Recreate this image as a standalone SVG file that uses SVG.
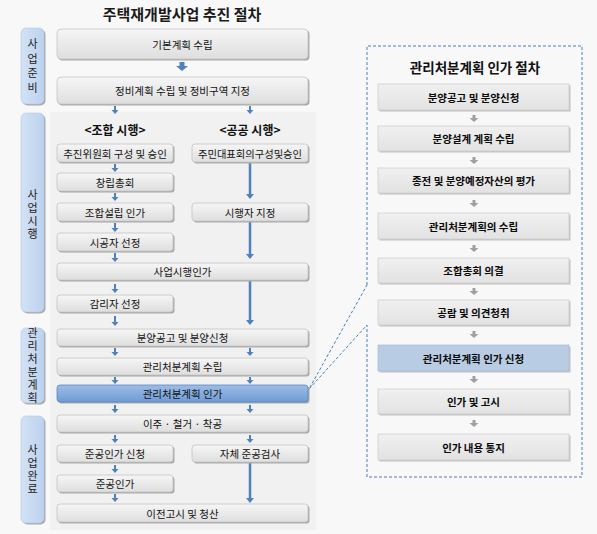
<svg xmlns="http://www.w3.org/2000/svg" width="597" height="534" viewBox="0 0 597 534">
<defs>
<linearGradient id="gGray" x1="0" y1="0" x2="0" y2="1"><stop offset="0" stop-color="#f6f6f6"/><stop offset="1" stop-color="#dedede"/></linearGradient>
<linearGradient id="gBlue" x1="0" y1="0" x2="0" y2="1"><stop offset="0" stop-color="#9dbde6"/><stop offset="1" stop-color="#6e9bd5"/></linearGradient>
<linearGradient id="gPanel" x1="0" y1="0" x2="0" y2="1"><stop offset="0" stop-color="#f0f0f0"/><stop offset="1" stop-color="#e2e2e2"/></linearGradient>
<linearGradient id="gLabel" x1="0" y1="0" x2="1" y2="0"><stop offset="0" stop-color="#d3e2f5"/><stop offset="1" stop-color="#bcd2ee"/></linearGradient>
</defs>
<style>
text{font-family:"Noto Sans CJK KR","Noto Sans",sans-serif;fill:#111;text-anchor:middle;dominant-baseline:central}
.box{fill:url(#gGray);stroke:#c4c4c4;stroke-width:0.8}
.sh{fill:#a9a9a9}
.hl{fill:url(#gBlue);stroke:#5b87c5;stroke-width:0.8}
.lab{fill:url(#gLabel);stroke:#b3c9e6;stroke-width:0.6}
.t{font-size:10.5px}
.lt{font-size:11px;fill:#222;writing-mode:vertical-rl;text-orientation:upright;letter-spacing:2px}
.hd{font-size:12px;font-weight:bold}
.pb{fill:url(#gPanel);stroke:#cfcfcf;stroke-width:0.8}
.psh{fill:#c2c2c2}
.phl{fill:#b8cce4;stroke:#a8bedb;stroke-width:0.8}
.pt{font-size:10.5px;font-weight:bold;fill:#0a0a0a}
.ar{fill:#4f81bd}
.ga{fill:#a0a0a0}
.ln{stroke:#4f81bd;stroke-width:2.5;fill:none}
.dash{fill:none;stroke:#4a7ebb;stroke-width:1;stroke-dasharray:3 2}
</style>
<rect width="597" height="534" fill="#f8f8f8"/>
<rect x="50" y="112" width="266" height="418" fill="#f1f1f1"/>
<text x="182" y="13" style="font-size:15px;font-weight:bold;fill:#1a1a1a">주택재개발사업 추진 절차</text>

<g id="labels">
<g id="label-prep"><rect x="22.5" y="29.5" width="23" height="76" rx="5" class="sh"/><rect x="21" y="28" width="23" height="76" rx="5" class="lab"/>
<text class="lt" x="32.5" y="67.5" style="letter-spacing:3.5px">사업준비</text></g>
<g id="label-exec"><rect x="22.5" y="114.5" width="23" height="199" rx="5" class="sh"/><rect x="21" y="113" width="23" height="199" rx="5" class="lab"/>
<text class="lt" x="32.5" y="215.5">사업시행</text></g>
<g id="label-mgmt"><rect x="22.5" y="329.5" width="23" height="75" rx="5" class="sh"/><rect x="21" y="328" width="23" height="75" rx="5" class="lab"/>
<text class="lt" x="32.5" y="366.5">관리처분계획</text></g>
<g id="label-done"><rect x="22.5" y="417.5" width="23" height="107" rx="5" class="sh"/><rect x="21" y="416" width="23" height="107" rx="5" class="lab"/>
<text class="lt" x="32.5" y="470.5">사업완료</text></g>
</g>

<g id="headers">
<text x="115" y="129" class="hd">&lt;조합 시행&gt;</text>
<text x="250" y="129" class="hd">&lt;공공 시행&gt;</text>
</g>

<g id="connectors">
<path class="ar" d="M179.5,62 h5 v4 h3.5 l-6,5 l-6,-5 h3.5 z"/>
<path class="ar" d="M114,106 h2 v4 h2.5 l-3.5,4 l-3.5,-4 h2.5 z"/>
<path class="ar" d="M249,106 h2 v4 h2.5 l-3.5,4 l-3.5,-4 h2.5 z"/>
<path class="ar" d="M114,164 h2 v4 h2.5 l-3.5,4 l-3.5,-4 h2.5 z"/>
<path class="ar" d="M114,193 h2 v4 h2.5 l-3.5,4 l-3.5,-4 h2.5 z"/>
<path class="ar" d="M114,223 h2 v5 h2.5 l-3.5,4 l-3.5,-4 h2.5 z"/>
<path class="ar" d="M114,253 h2 v5 h2.5 l-3.5,4 l-3.5,-4 h2.5 z"/>
<path class="ar" d="M114,284 h2 v5 h2.5 l-3.5,4 l-3.5,-4 h2.5 z"/>
<path class="ar" d="M114,316 h2 v6 h2.5 l-3.5,4 l-3.5,-4 h2.5 z"/>
<path class="ar" d="M114,348 h2 v4 h2.5 l-3.5,4 l-3.5,-4 h2.5 z"/>
<path class="ar" d="M249,348 h2 v4 h2.5 l-3.5,4 l-3.5,-4 h2.5 z"/>
<path class="ar" d="M114,377 h2 v3 h2.5 l-3.5,4 l-3.5,-4 h2.5 z"/>
<path class="ar" d="M249,377 h2 v3 h2.5 l-3.5,4 l-3.5,-4 h2.5 z"/>
<path class="ar" d="M114,405 h2 v4 h2.5 l-3.5,4 l-3.5,-4 h2.5 z"/>
<path class="ar" d="M249,405 h2 v4 h2.5 l-3.5,4 l-3.5,-4 h2.5 z"/>
<path class="ar" d="M114,435 h2 v4 h2.5 l-3.5,4 l-3.5,-4 h2.5 z"/>
<path class="ar" d="M249,435 h2 v4 h2.5 l-3.5,4 l-3.5,-4 h2.5 z"/>
<path class="ar" d="M114,465 h2 v4 h2.5 l-3.5,4 l-3.5,-4 h2.5 z"/>
<path class="ar" d="M114,494 h2 v4 h2.5 l-3.5,4 l-3.5,-4 h2.5 z"/>
<line class="ln" x1="250" y1="163" x2="250" y2="195"/><path class="ar" d="M246,194 h8 l-4,5 z"/>
<line class="ln" x1="250" y1="222" x2="250" y2="255"/><path class="ar" d="M246,254 h8 l-4,5 z"/>
<line class="ln" x1="250" y1="281" x2="250" y2="321"/><path class="ar" d="M246,320 h8 l-4,5 z"/>
<line class="ln" x1="250" y1="463" x2="250" y2="499"/><path class="ar" d="M246,498 h8 l-4,5 z"/>
<path class="dash" d="M367,285 V46 H582 V477 H367 V325 L309,389 Z"/>
<path class="ga" d="M472.5,115 h3 v3 h3 l-4.5,4 l-4.5,-4 h3 z"/>
<path class="ga" d="M472.5,157 h3 v3 h3 l-4.5,4 l-4.5,-4 h3 z"/>
<path class="ga" d="M472.5,200 h3 v3 h3 l-4.5,4 l-4.5,-4 h3 z"/>
<path class="ga" d="M472.5,245 h3 v3 h3 l-4.5,4 l-4.5,-4 h3 z"/>
<path class="ga" d="M472.5,288 h3 v3 h3 l-4.5,4 l-4.5,-4 h3 z"/>
<path class="ga" d="M472.5,331 h3 v3 h3 l-4.5,4 l-4.5,-4 h3 z"/>
<path class="ga" d="M472.5,376 h3 v3 h3 l-4.5,4 l-4.5,-4 h3 z"/>
<path class="ga" d="M472.5,420 h3 v3 h3 l-4.5,4 l-4.5,-4 h3 z"/>
</g>

<g id="n1"><rect x="58.5" y="30.5" width="251" height="30" rx="4" class="sh"/><rect x="57" y="29" width="251" height="30" rx="4" class="box"/><text x="182.5" y="44" class="t">기본계획 수립</text></g>
<g id="n2"><rect x="58.5" y="78.5" width="251" height="27" rx="4" class="sh"/><rect x="57" y="77" width="251" height="27" rx="4" class="box"/><text x="182.5" y="90.5" class="t">정비계획 수립 및 정비구역 지정</text></g>
<g id="n3"><rect x="58.5" y="145.5" width="116" height="18" rx="3" class="sh"/><rect x="57" y="144" width="116" height="18" rx="3" class="box"/><text x="115" y="153" class="t">추진위원회 구성 및 승인</text></g>
<g id="n4"><rect x="193.5" y="145.5" width="116" height="18" rx="3" class="sh"/><rect x="192" y="144" width="116" height="18" rx="3" class="box"/><text x="250" y="153" class="t" textLength="104" lengthAdjust="spacingAndGlyphs">주민대표회의구성및승인</text></g>
<g id="n5"><rect x="58.5" y="174.5" width="116" height="18" rx="3" class="sh"/><rect x="57" y="173" width="116" height="18" rx="3" class="box"/><text x="115" y="182" class="t">창립총회</text></g>
<g id="n6"><rect x="58.5" y="204.5" width="116" height="18" rx="3" class="sh"/><rect x="57" y="203" width="116" height="18" rx="3" class="box"/><text x="115" y="212" class="t">조합설립 인가</text></g>
<g id="n7"><rect x="193.5" y="204.5" width="116" height="18" rx="3" class="sh"/><rect x="192" y="203" width="116" height="18" rx="3" class="box"/><text x="250" y="212" class="t">시행자 지정</text></g>
<g id="n8"><rect x="58.5" y="234.5" width="116" height="18" rx="3" class="sh"/><rect x="57" y="233" width="116" height="18" rx="3" class="box"/><text x="115" y="242" class="t">시공자 선정</text></g>
<g id="n9"><rect x="58.5" y="264.5" width="251" height="17" rx="3" class="sh"/><rect x="57" y="263" width="251" height="17" rx="3" class="box"/><text x="182.5" y="271.5" class="t">사업시행인가</text></g>
<g id="n10"><rect x="58.5" y="296.5" width="116" height="17" rx="3" class="sh"/><rect x="57" y="295" width="116" height="17" rx="3" class="box"/><text x="115" y="303.5" class="t">감리자 선정</text></g>
<g id="n11"><rect x="58.5" y="330.5" width="251" height="17" rx="3" class="sh"/><rect x="57" y="329" width="251" height="17" rx="3" class="box"/><text x="182.5" y="337.5" class="t">분양공고 및 분양신청</text></g>
<g id="n12"><rect x="58.5" y="359.5" width="251" height="17" rx="3" class="sh"/><rect x="57" y="358" width="251" height="17" rx="3" class="box"/><text x="182.5" y="366.5" class="t">관리처분계획 수립</text></g>
<g id="n13"><rect x="58.5" y="386.5" width="251" height="17" rx="3" class="sh"/><rect x="57" y="385" width="251" height="17" rx="3" class="hl"/><text x="182.5" y="393.5" class="t">관리처분계획 인가</text></g>
<g id="n14"><rect x="58.5" y="416.5" width="251" height="17" rx="3" class="sh"/><rect x="57" y="415" width="251" height="17" rx="3" class="box"/><text x="182.5" y="423.5" class="t">이주 · 철거 · 착공</text></g>
<g id="n15"><rect x="58.5" y="446.5" width="116" height="17" rx="3" class="sh"/><rect x="57" y="445" width="116" height="17" rx="3" class="box"/><text x="115" y="453.5" class="t">준공인가 신청</text></g>
<g id="n16"><rect x="193.5" y="446.5" width="116" height="17" rx="3" class="sh"/><rect x="192" y="445" width="116" height="17" rx="3" class="box"/><text x="250" y="453.5" class="t">자체 준공검사</text></g>
<g id="n17"><rect x="58.5" y="476.5" width="116" height="17" rx="3" class="sh"/><rect x="57" y="475" width="116" height="17" rx="3" class="box"/><text x="115" y="483.5" class="t">준공인가</text></g>
<g id="n18"><rect x="58.5" y="505.5" width="251" height="18" rx="3" class="sh"/><rect x="57" y="504" width="251" height="18" rx="3" class="box"/><text x="182.5" y="513" class="t">이전고시 및 청산</text></g>

<g id="panel">
<text x="475" y="67" style="font-size:13.5px;font-weight:bold;fill:#111">관리처분계획 인가 절차</text>
<g id="p1"><rect x="379.5" y="85.5" width="191" height="26" class="psh"/><rect x="378" y="84" width="191" height="26" class="pb"/><text x="473.5" y="97" class="pt">분양공고 및 분양신청</text></g>
<g id="p2"><rect x="379.5" y="127.5" width="191" height="25" class="psh"/><rect x="378" y="126" width="191" height="25" class="pb"/><text x="473.5" y="138.5" class="pt">분양설계 계획 수립</text></g>
<g id="p3"><rect x="379.5" y="169.5" width="191" height="25" class="psh"/><rect x="378" y="168" width="191" height="25" class="pb"/><text x="473.5" y="180.5" class="pt">종전 및 분양예정자산의 평가</text></g>
<g id="p4"><rect x="379.5" y="214.5" width="191" height="26" class="psh"/><rect x="378" y="213" width="191" height="26" class="pb"/><text x="473.5" y="226" class="pt">관리처분계획의 수립</text></g>
<g id="p5"><rect x="379.5" y="259.5" width="191" height="25" class="psh"/><rect x="378" y="258" width="191" height="25" class="pb"/><text x="473.5" y="270.5" class="pt">조합총회 의결</text></g>
<g id="p6"><rect x="379.5" y="301.5" width="191" height="25" class="psh"/><rect x="378" y="300" width="191" height="25" class="pb"/><text x="473.5" y="312.5" class="pt">공람 및 의견청취</text></g>
<g id="p7"><rect x="379.5" y="346.5" width="191" height="26" class="psh"/><rect x="378" y="345" width="191" height="26" class="phl"/><text x="473.5" y="358" class="pt">관리처분계획 인가 신청</text></g>
<g id="p8"><rect x="379.5" y="390.5" width="191" height="25" class="psh"/><rect x="378" y="389" width="191" height="25" class="pb"/><text x="473.5" y="401.5" class="pt">인가 및 고시</text></g>
<g id="p9"><rect x="379.5" y="435.5" width="191" height="26" class="psh"/><rect x="378" y="434" width="191" height="26" class="pb"/><text x="473.5" y="447" class="pt">인가 내용 통지</text></g>
</g>
</svg>
